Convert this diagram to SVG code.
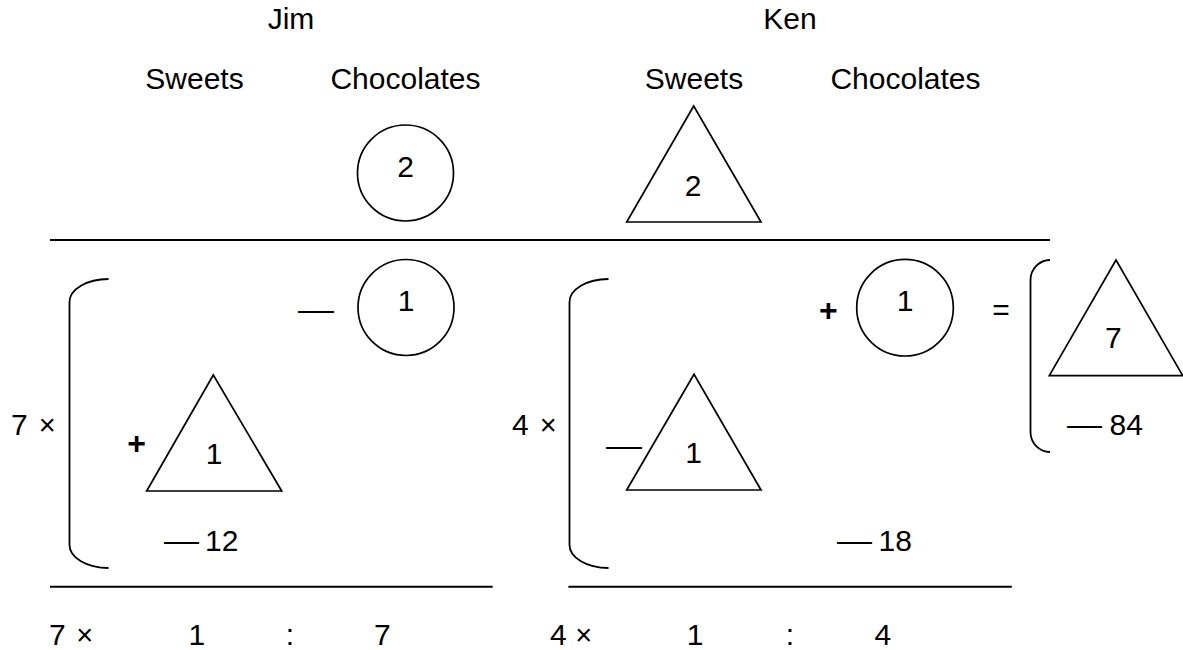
<svg xmlns="http://www.w3.org/2000/svg" width="1183" height="650" viewBox="0 0 1183 650">
<style>
text{font-family:"Liberation Sans",Arial,sans-serif;font-size:30px;fill:#000}
.h{font-size:30px;text-anchor:middle}
.c{text-anchor:middle}
.op{font-weight:bold;font-size:32px}
.x{font-size:29px}
.shape{fill:none;stroke:#000;stroke-width:1.7}
.rule{fill:none;stroke:#000;stroke-width:2}
.br{fill:none;stroke:#000;stroke-width:1.8}
</style>
<rect width="1183" height="650" fill="#fff"/>
<g id="headers">
<text class="h" x="291" y="29">Jim</text>
<text class="h" x="790" y="29">Ken</text>
<text class="h" x="194.5" y="89">Sweets</text>
<text class="h" x="405.5" y="89">Chocolates</text>
<text class="h" x="694" y="89">Sweets</text>
<text class="h" x="905.5" y="89">Chocolates</text>
</g>
<g id="rules">
<line class="rule" x1="50" y1="240" x2="1050" y2="240"/>
<line class="rule" x1="50" y1="586.7" x2="492.7" y2="586.7"/>
<line class="rule" x1="568.4" y1="586.7" x2="1011.8" y2="586.7"/>
</g>
<g id="jim-choc-top"><circle class="shape" cx="405.5" cy="173" r="48"/><text class="c" x="405.7" y="177">2</text></g>
<g id="ken-sweet-top"><polygon class="shape" points="693.7,106 626.7,222 761,222"/><text class="c" x="693" y="196">2</text></g>
<g id="jim-expr">
<text x="11" y="435">7<tspan class="x" x="38.7">×</tspan></text>
<path class="br" d="M108.5,279 A39,23 0 0 0 69.5,302 L69.5,545 A39,23 0 0 0 108.5,568"/>
<text x="298" y="320" textLength="36" lengthAdjust="spacingAndGlyphs">—</text>
<text class="op c" x="136.7" y="454">+</text>
<text x="164" y="551" textLength="35" lengthAdjust="spacingAndGlyphs">—</text>
<text x="205" y="551">12</text>
</g>
<g id="jim-choc-mid"><circle class="shape" cx="406" cy="307.5" r="48"/><text class="c" x="406" y="311">1</text></g>
<g id="jim-sweet-mid"><polygon class="shape" points="213.3,375 146.7,491 281.7,491"/><text class="c" x="214" y="464">1</text></g>
<g id="ken-expr">
<text x="512" y="435">4<tspan class="x" x="539.7">×</tspan></text>
<path class="br" d="M608.5,279 A39,23 0 0 0 569.5,302 L569.5,545 A39,23 0 0 0 608.5,568"/>
<text class="op c" x="828.3" y="321">+</text>
<text x="606" y="455.5" textLength="36" lengthAdjust="spacingAndGlyphs">—</text>
<text x="837" y="551" textLength="35" lengthAdjust="spacingAndGlyphs">—</text>
<text x="878.5" y="551">18</text>
</g>
<g id="ken-choc-mid"><circle class="shape" cx="905" cy="307.7" r="48.3"/><text class="c" x="905" y="311">1</text></g>
<g id="ken-sweet-mid"><polygon class="shape" points="694,374.3 626.7,490 761,490"/><text class="c" x="693.5" y="463">1</text></g>
<g id="result">
<text class="c" x="1001" y="320">=</text>
<path class="br" d="M1050,260 A19.5,20 0 0 0 1030.5,280 L1030.5,432 A19.5,20 0 0 0 1050,452"/>
<polygon class="shape" points="1116,260 1049.3,375.7 1182.7,375.7"/>
<text class="c" x="1113.3" y="347.7">7</text>
<text x="1067" y="435" textLength="35" lengthAdjust="spacingAndGlyphs">—</text>
<text x="1109.5" y="435">84</text>
</g>
<g id="jim-ratio">
<text x="49" y="645">7<tspan class="x" x="76.3">×</tspan></text>
<text x="188.5" y="645">1</text>
<text class="c" x="290" y="645">:</text>
<text x="374" y="645">7</text>
</g>
<g id="ken-ratio">
<text x="550" y="645">4<tspan class="x" x="575.3">×</tspan></text>
<text x="686.8" y="645">1</text>
<text class="c" x="790" y="645">:</text>
<text x="874.5" y="645">4</text>
</g>
</svg>
